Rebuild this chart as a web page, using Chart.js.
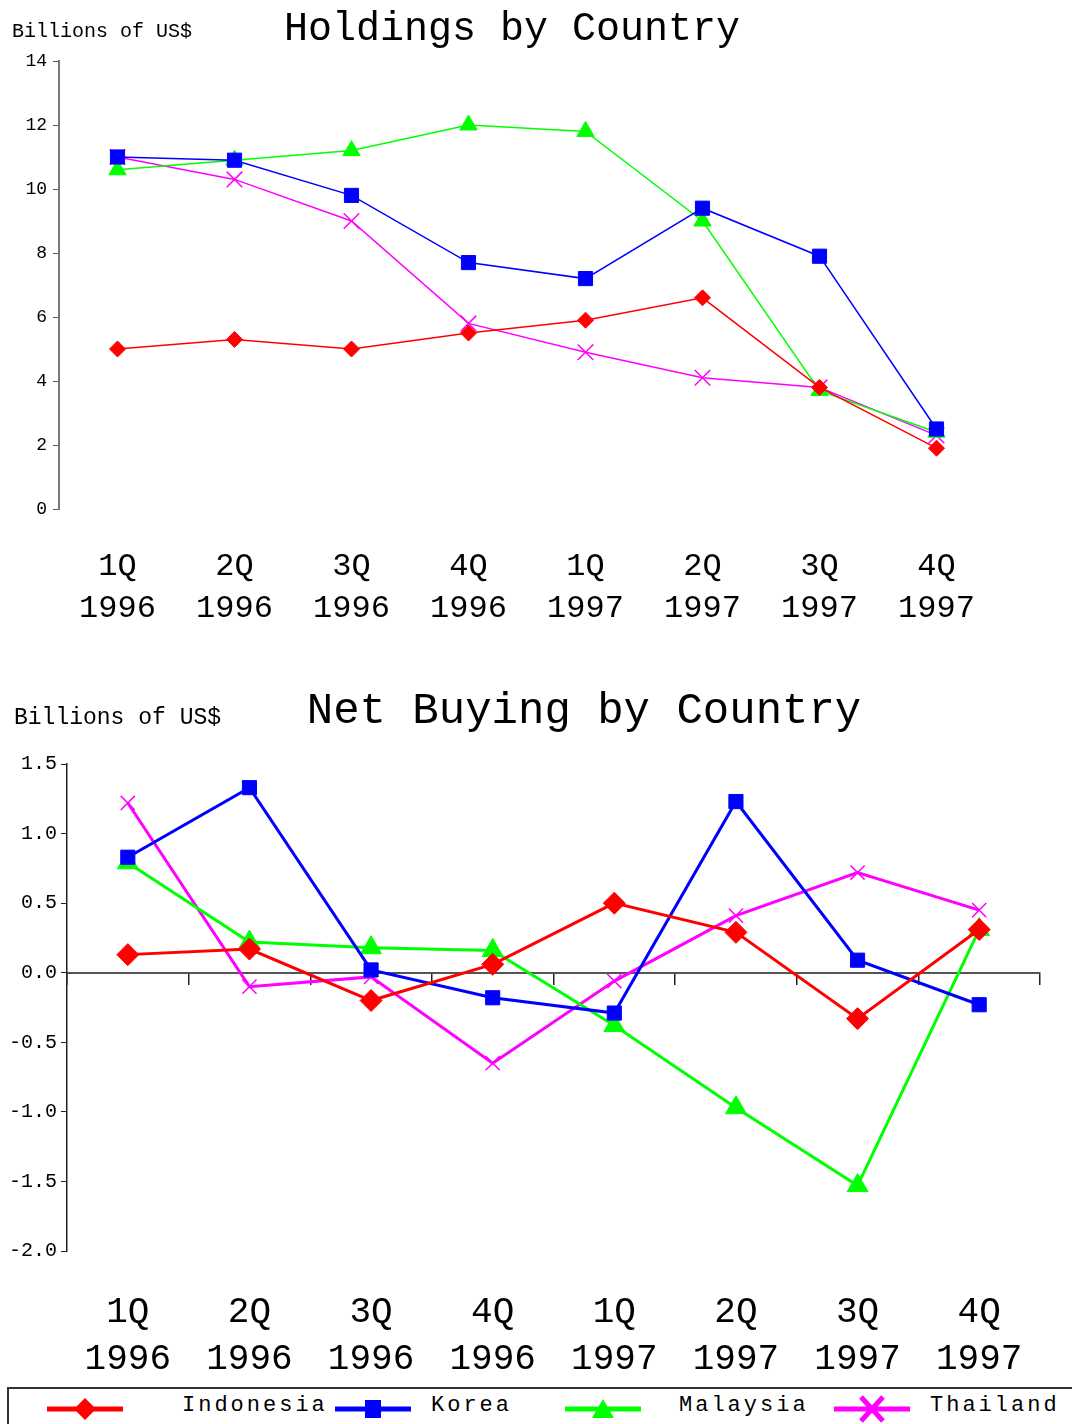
<!DOCTYPE html>
<html>
<head>
<meta charset="utf-8">
<script src="https://cdn.jsdelivr.net/npm/chart.js@4.4.1/dist/chart.umd.min.js"></script>
<style>
  body { margin: 0; background: #fff; width: 1072px; height: 1424px; overflow: hidden; position: relative; font-family: "Liberation Mono", monospace; }
  #holdWrap { position: absolute; left: 0; top: 0; width: 1072px; height: 640px; }
  #buyWrap { position: absolute; left: 0; top: 680px; width: 1072px; height: 705px; }
  #legend { position: absolute; left: 7px; top: 1387px; width: 1090px; height: 60px; border: 2px solid #333; box-sizing: border-box; }
  #legend canvas { position: absolute; top: 3px; }
  #legend span { position: absolute; top: 4px; font-size: 22px; letter-spacing: 3px; color: #000; line-height: 26px; }
</style>
</head>
<body>
<div id="holdWrap"><canvas id="holdChart"></canvas></div>
<div id="buyWrap"><canvas id="buyChart"></canvas></div>
<div id="legend"></div>

<script>
// quarters on the x axis
var quarters = [['1Q', '1996'], ['2Q', '1996'], ['3Q', '1996'], ['4Q', '1996'],
                ['1Q', '1997'], ['2Q', '1997'], ['3Q', '1997'], ['4Q', '1997']];

// holdings, billions of US$
var holdIndonesia = [5.0, 5.3, 5.0, 5.5, 5.9, 6.6, 3.8, 1.9];
var holdKorea     = [11.0, 10.9, 9.8, 7.7, 7.2, 9.4, 7.9, 2.5];
var holdMalaysia  = [10.6, 10.9, 11.2, 12.0, 11.8, 9.0, 3.7, 2.4];
var holdThailand  = [11.0, 10.3, 9.0, 5.8, 4.9, 4.1, 3.8, 2.3];

// net buying, billions of US$
var buyIndonesia = [0.13, 0.17, -0.20, 0.06, 0.50, 0.29, -0.33, 0.31];
var buyKorea     = [0.83, 1.33, 0.02, -0.18, -0.29, 1.23, 0.09, -0.23];
var buyMalaysia  = [0.79, 0.22, 0.18, 0.16, -0.38, -0.97, -1.53, 0.31];
var buyThailand  = [1.22, -0.10, -0.03, -0.65, -0.06, 0.41, 0.72, 0.45];

var countries = ['Indonesia', 'Korea', 'Malaysia', 'Thailand'];
var colors = ['#ff0000', '#0000ff', '#00ff00', '#ff00ff'];
var markers = ['rectRot', 'rect', 'triangle', 'crossRot'];

var mono = 'Liberation Mono';
Chart.defaults.font.family = mono;
Chart.defaults.color = '#000';

// title + unit label drawn on the canvas
var headerPlugin = {
  id: 'header',
  afterDraw: function (chart, args, opts) {
    var ctx = chart.ctx;
    ctx.save();
    ctx.fillStyle = '#000';
    ctx.textBaseline = 'middle';
    ctx.font = opts.titleSize + 'px "' + mono + '"';
    ctx.textAlign = 'center';
    ctx.fillText(opts.title, opts.titleX, opts.titleY);
    ctx.font = opts.unitSize + 'px "' + mono + '"';
    ctx.textAlign = 'left';
    ctx.fillText('Billions of US$', opts.unitX, opts.unitY);
    ctx.restore();
  }
};

function makeSets(series, lineW, sizes) {
  return series.map(function (vals, i) {
    return {
      label: countries[i],
      data: vals,
      borderColor: colors[i],
      backgroundColor: colors[i],
      borderWidth: lineW,
      pointStyle: markers[i],
      pointRadius: sizes[i],
      pointHoverRadius: sizes[i],
      pointBorderWidth: i === 3 ? 1.5 : 1,
      tension: 0
    };
  });
}

// Holdings by Country
new Chart(document.getElementById('holdChart'), {
  type: 'line',
  data: {
    labels: quarters,
    datasets: makeSets([holdIndonesia, holdKorea, holdMalaysia, holdThailand], 1.5, [8, 10, 10, 11])
  },
  options: {
    responsive: true,
    maintainAspectRatio: false,
    animation: false,
    layout: { padding: { top: 61, right: 77, left: 0, bottom: 0 } },
    plugins: {
      legend: { display: false },
      tooltip: { enabled: false },
      header: { title: 'Holdings by Country', titleSize: 40, titleX: 512, titleY: 29,
                unitSize: 20, unitX: 12, unitY: 32 }
    },
    scales: {
      x: {
        offset: true,
        grid: { display: false },
        border: { display: false },
        ticks: { font: { size: 32, lineHeight: 1.3 }, padding: 29, maxRotation: 0 },
        afterFit: function (s) { s.height = 131; }
      },
      y: {
        min: 0, max: 14,
        ticks: { stepSize: 2, font: { size: 18 }, padding: 6 },
        grid: { drawOnChartArea: false, tickLength: 6, color: '#555' },
        border: { color: '#777', width: 2 },
        afterFit: function (s) { s.width = 59; }
      }
    }
  },
  plugins: [headerPlugin]
});

// Net Buying by Country
new Chart(document.getElementById('buyChart'), {
  type: 'line',
  data: {
    labels: quarters,
    datasets: makeSets([buyIndonesia, buyKorea, buyMalaysia, buyThailand], 3, [11, 10, 12, 10])
  },
  options: {
    responsive: true,
    maintainAspectRatio: false,
    animation: false,
    layout: { padding: { top: 84, right: 32, left: 0, bottom: 0 } },
    plugins: {
      legend: { display: false },
      tooltip: { enabled: false },
      header: { title: 'Net Buying by Country', titleSize: 44, titleX: 584, titleY: 31,
                unitSize: 23, unitX: 14, unitY: 38 }
    },
    scales: {
      x: {
        offset: true,
        grid: { display: false },
        border: { display: false },
        ticks: { font: { size: 36, lineHeight: 1.3 }, padding: 30, maxRotation: 0 },
        afterFit: function (s) { s.height = 134; }
      },
      zero: {
        type: 'category',
        axis: 'x',
        position: { y: 0 },
        offset: true,
        ticks: { display: false },
        grid: { offset: true, drawOnChartArea: false, tickLength: 11, color: '#222', lineWidth: 1.5 },
        border: { color: '#555', width: 2 }
      },
      y: {
        min: -2, max: 1.5,
        ticks: { stepSize: 0.5, font: { size: 20 }, padding: 4,
                 callback: function (v) { return v.toFixed(1); } },
        grid: { drawOnChartArea: false, tickLength: 6, color: '#222' },
        border: { color: '#222', width: 1.5 },
        afterFit: function (s) { s.width = 67; }
      }
    }
  },
  plugins: [headerPlugin]
});

// legend strip under the charts
var legendPos = [[38, 173], [326, 422], [556, 670], [825, 921]];
var legend = document.getElementById('legend');
countries.forEach(function (name, i) {
  var cv = document.createElement('canvas');
  cv.width = 90; cv.height = 32;
  cv.style.left = legendPos[i][0] + 'px';
  legend.appendChild(cv);
  var c = cv.getContext('2d');
  c.strokeStyle = colors[i];
  c.fillStyle = colors[i];
  c.lineWidth = 5;
  c.beginPath(); c.moveTo(0, 17); c.lineTo(76, 17); c.stroke();
  var cx = 38, cy = 17;
  c.beginPath();
  if (markers[i] === 'rectRot') {
    c.moveTo(cx, cy - 11); c.lineTo(cx + 11, cy); c.lineTo(cx, cy + 11); c.lineTo(cx - 11, cy);
    c.closePath(); c.fill();
  } else if (markers[i] === 'rect') {
    c.fillRect(cx - 8, cy - 9, 16, 18);
  } else if (markers[i] === 'triangle') {
    c.moveTo(cx, cy - 10); c.lineTo(cx + 11, cy + 9); c.lineTo(cx - 11, cy + 9);
    c.closePath(); c.fill();
  } else {
    c.lineWidth = 5;
    c.moveTo(cx - 11, cy - 12); c.lineTo(cx + 11, cy + 12);
    c.moveTo(cx + 11, cy - 12); c.lineTo(cx - 11, cy + 12);
    c.stroke();
  }
  var t = document.createElement('span');
  t.textContent = name;
  t.style.left = legendPos[i][1] + 'px';
  legend.appendChild(t);
});
</script>
</body>
</html>
